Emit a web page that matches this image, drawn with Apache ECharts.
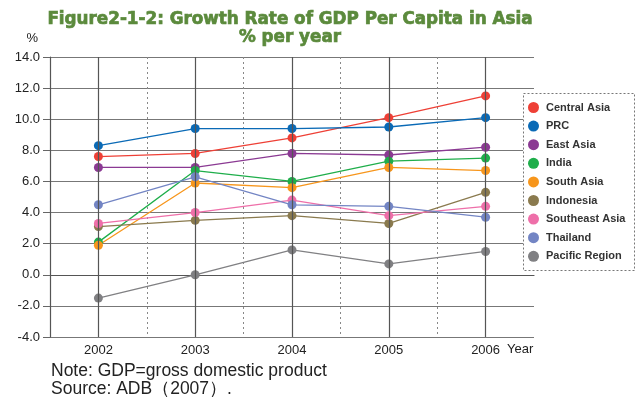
<!DOCTYPE html>
<html>
<head>
<meta charset="utf-8">
<script src="https://cdn.jsdelivr.net/npm/echarts@6/dist/echarts.min.js"></script>
<style>
  html, body { margin: 0; padding: 0; background: #fff; }
  #main { width: 636px; height: 398px; }
</style>
</head>
<body>
<div id="main"></div>
<script>
// 年份
var years = ["2002", "2003", "2004", "2005", "2006"];

// 各地区人均GDP增长率 (%)
var centralAsia   = [7.6, 7.8, 8.8, 10.1, 11.5];
var prc           = [8.3, 9.4, 9.4, 9.5, 10.1];
var eastAsia      = [6.9, 6.9, 7.8, 7.7, 8.2];
var india         = [2.1, 6.7, 6.0, 7.3, 7.5];
var southAsia     = [1.9, 5.9, 5.6, 6.9, 6.7];
var indonesia     = [3.1, 3.5, 3.8, 3.3, 5.3];
var southeastAsia = [3.3, 4.0, 4.8, 3.8, 4.4];
var thailand      = [4.5, 6.3, 4.5, 4.4, 3.7];
var pacific       = [-1.5, 0.0, 1.6, 0.7, 1.5];

var seriesNames = ["Central Asia", "PRC", "East Asia", "India", "South Asia",
  "Indonesia", "Southeast Asia", "Thailand", "Pacific Region"];
var seriesData = [centralAsia, prc, eastAsia, india, southAsia,
  indonesia, southeastAsia, thailand, pacific];
var colors = ["#ee4036", "#0a6ab6", "#8b3a93", "#1fae4b", "#f7961c",
  "#8a7a4e", "#ee6fa9", "#7385c4", "#808083"];

var myChart = echarts.init(document.getElementById('main'));

// 年份处的竖线（实线）
var yearLines = [];
for (var k = 0; k < years.length; k++) {
  yearLines.push({ xAxis: k });
}

var series = [{
  name: 'yearGrid',
  type: 'line',
  data: [],
  z: 1,
  markLine: {
    silent: true,
    symbol: 'none',
    label: { show: false },
    lineStyle: { color: '#555', type: 'solid', width: 1.2 },
    data: yearLines
  }
}];
for (var i = 0; i < seriesNames.length; i++) {
  series.push({
    name: seriesNames[i],
    type: 'line',
    data: seriesData[i],
    symbol: 'circle',
    symbolSize: 9,
    lineStyle: { width: 1.3, color: colors[i] },
    itemStyle: { color: colors[i] },
    z: 3
  });
}

var option = {
  animation: false,
  color: colors,
  textStyle: { fontFamily: "Liberation Sans" },
  grid: { left: 50, right: 102, top: 57, bottom: 61 },
  xAxis: {
    type: 'category',
    data: years,
    boundaryGap: true,
    axisLine: { lineStyle: { color: '#555', width: 1.2 } },
    axisTick: { show: false },
    splitLine: { show: true, showMinLine: false, showMaxLine: false,
      lineStyle: { color: '#888', type: [2, 3], width: 1 } },
    axisLabel: { color: '#222', fontSize: 13, margin: 7 }
  },
  yAxis: {
    type: 'value',
    min: -4, max: 14, interval: 2,
    name: '%',
    nameLocation: 'end',
    nameGap: 12,
    nameTextStyle: { color: '#222', fontSize: 13, align: 'right', padding: [0, 12, 0, 0] },
    axisLine: { show: true, lineStyle: { color: '#555', width: 1.2 } },
    axisTick: { show: true, length: 7, lineStyle: { color: '#666' } },
    splitLine: { lineStyle: { color: '#777', width: 1.2 } },
    axisLabel: { color: '#222', fontSize: 13, margin: 10,
      formatter: function (v) { return v.toFixed(1); } }
  },
  legend: {
    orient: 'vertical',
    left: 523, top: 97,
    icon: 'circle',
    itemWidth: 11, itemHeight: 11,
    itemGap: 7.6,
    backgroundColor: '#fff',
    textStyle: { color: '#333', fontSize: 11, fontWeight: 'bold', padding: [0, 0, 0, 2] },
    data: seriesNames
  },
  graphic: [
    { type: 'rect', left: 521, top: 91, z: 10, silent: true,
      shape: { width: 111, height: 177 },
      style: { fill: 'none', stroke: '#777', lineWidth: 1, lineDash: [2, 2] } },
    { type: 'text', x: 290, y: 11, z: 10,
      style: { text: 'Figure2-1-2: Growth Rate of GDP Per Capita in Asia\n% per year',
        fill: '#5b8a3c', stroke: '#5b8a3c', lineWidth: 0.7,
        font: 'bold 16.8px "DejaVu Sans"', textAlign: 'center', lineHeight: 18 } },
    { type: 'text', left: 507, top: 343, z: 10,
      style: { text: 'Year', fill: '#222', font: '13px "Liberation Sans"' } },
    { type: 'text', left: 51, top: 362, z: 10,
      style: { text: 'Note: GDP=gross domestic product\nSource: ADB\uff082007\uff09.',
        fill: '#222', font: '17.5px "Liberation Sans"', lineHeight: 18 } }
  ],
  series: series
};

myChart.setOption(option);
</script>
</body>
</html>
